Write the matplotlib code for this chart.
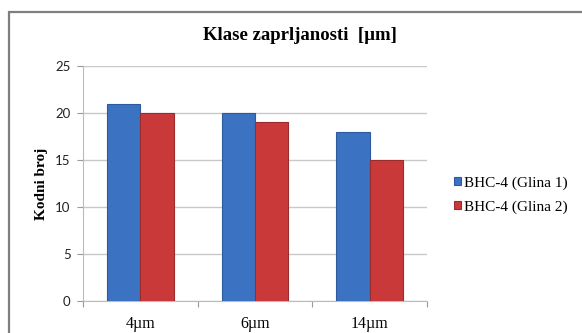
import matplotlib.pyplot as plt
import numpy as np
from matplotlib.patches import Rectangle

categories = ['4µm', '6µm', '14µm']
glina1 = [21, 20, 18]
glina2 = [20, 19, 15]
series_names = ['BHC-4 (Glina 1)', 'BHC-4 (Glina 2)']
yticks = [0, 5, 10, 15, 20, 25]

serif = ['Liberation Serif', 'DejaVu Serif']
sans = ['Lato', 'DejaVu Sans']

fig = plt.figure(figsize=(5.82, 3.33), dpi=100)
ax = fig.add_axes([83/582, 32/333, 344/582, 235/333])

x = np.arange(len(categories))
w = 0.29
b1 = ax.bar(x - w/2, glina1, w, color='#3b72c2', edgecolor='#2c5a9c', linewidth=0.8, zorder=3)
b2 = ax.bar(x + w/2, glina2, w, color='#c9393a', edgecolor='#9c2c2c', linewidth=0.8, zorder=3)

ax.set_xlim(-0.5, 2.5)
ax.set_ylim(0, 25)
ax.set_yticks(yticks)
ax.set_yticklabels([str(v) for v in yticks], fontfamily=sans, fontsize=9.5, color='#222222')
ax.grid(axis='y', color='#c8c8c8', linewidth=1, zorder=0)

# category boundaries carry the tick marks, labels sit on the minor ticks
ax.set_xticks([-0.5, 0.5, 1.5, 2.5])
ax.set_xticklabels([])
ax.set_xticks(x, minor=True)
ax.set_xticklabels(categories, minor=True, fontfamily=serif, fontsize=11.5)
ax.tick_params(axis='x', which='minor', length=0, pad=11)
ax.tick_params(axis='x', which='major', length=4, color='#999999')
ax.tick_params(axis='y', length=4, color='#999999', pad=5)

for s in ['top', 'right']:
    ax.spines[s].set_visible(False)
for s in ['left', 'bottom']:
    ax.spines[s].set_color('#bbbbbb')

ax.set_ylabel('Kodni broj', fontfamily=serif, fontweight='bold', fontsize=11, labelpad=5)
fig.text(300/582, 1 - 35/333, 'Klase zaprljanosti  [µm]', ha='center', va='center',
         fontfamily=serif, fontweight='bold', fontsize=13.5)

leg = fig.legend([b1, b2], series_names, loc='center left', bbox_to_anchor=(440/582, 1 - 195/333),
                 frameon=False, prop={'family': serif, 'size': 11},
                 handlelength=0.45, handleheight=0.45, handletextpad=0.25, labelspacing=0.7)

fig.patches.append(Rectangle((9/582, -0.1), 1.2, 1.1 - 12/333, transform=fig.transFigure,
                             fill=False, edgecolor='#7f7f7f', linewidth=1.6))

fig.savefig('out.png', dpi=100)
